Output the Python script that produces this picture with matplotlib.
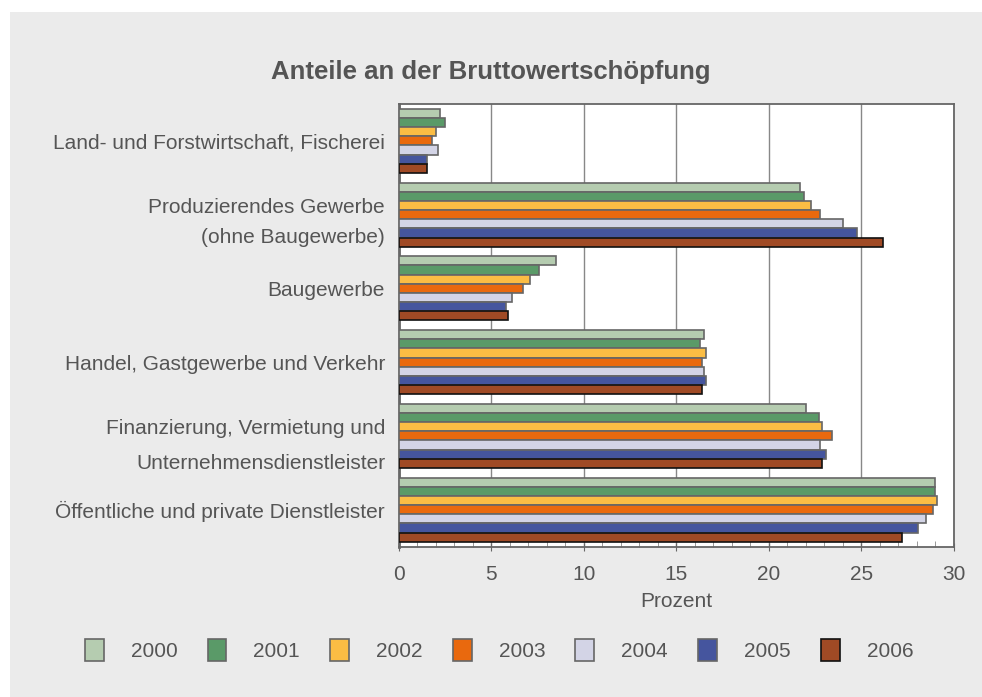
import matplotlib
matplotlib.use("Agg")
import matplotlib.pyplot as plt
from matplotlib.patches import Rectangle
import numpy as np

plt.rcParams['font.family'] = ['Liberation Sans', 'DejaVu Sans']

# Daten
kategorien = ['Land- und Forstwirtschaft, Fischerei',
              'Produzierendes Gewerbe\n(ohne Baugewerbe)',
              'Baugewerbe',
              'Handel, Gastgewerbe und Verkehr',
              'Finanzierung, Vermietung und\nUnternehmensdienstleister',
              'Öffentliche und private Dienstleister']
jahre = ['2000', '2001', '2002', '2003', '2004', '2005', '2006']

w2000 = [2.2, 21.7, 8.5, 16.5, 22.0, 29.0]
w2001 = [2.5, 21.9, 7.6, 16.3, 22.7, 29.0]
w2002 = [2.0, 22.3, 7.1, 16.6, 22.9, 29.1]
w2003 = [1.8, 22.8, 6.7, 16.4, 23.4, 28.9]
w2004 = [2.1, 24.0, 6.1, 16.5, 22.8, 28.5]
w2005 = [1.5, 24.8, 5.8, 16.6, 23.1, 28.1]
w2006 = [1.5, 26.2, 5.9, 16.4, 22.9, 27.2]
werte = [w2000, w2001, w2002, w2003, w2004, w2005, w2006]

farben = ['#b5ccb0', '#5a9a68', '#fbbd44', '#e9690e', '#d3d4e6', '#45559e', '#a04a25']
kanten = ['#666666'] * 6 + ['#111111']
textfarbe = '#555555'

fig = plt.figure(figsize=(9.82, 6.97), dpi=100)
# grauer Hintergrund mit weissem Rand oben/links
fig.patches.append(Rectangle((10 / 982, 0), 1, (697 - 12) / 697,
                             transform=fig.transFigure, facecolor='#ebebeb',
                             edgecolor='none', zorder=-10))

ax = fig.add_axes([399 / 982, 150.5 / 697, 554.5 / 982, 442.5 / 697])

n = len(jahre)
gruppe = 0.87
h = gruppe / n
y = np.arange(len(kategorien))
for i, (jahr, vals) in enumerate(zip(jahre, werte)):
    pos = y - gruppe / 2 + h / 2 + i * h
    ax.barh(pos, vals, height=h, color=farben[i], edgecolor=kanten[i],
            linewidth=1.2, label=jahr, zorder=3)

ax.set_ylim(len(kategorien) - 0.5, -0.5)
ax.set_xlim(0, 30)
ax.set_xticks(range(0, 31, 5))
ax.set_xticks(range(0, 31, 1), minor=True)
ax.set_yticks(y)
ax.set_yticklabels(kategorien, fontsize=15, color=textfarbe, linespacing=2.1)
ax.get_yticklabels()[1].set_linespacing(1.75)
ax.tick_params(axis='y', length=0, pad=10)
ax.tick_params(axis='x', which='major', length=6, direction='inout', color='#666666',
               labelsize=15, labelcolor=textfarbe, pad=10)
ax.tick_params(axis='x', which='minor', length=4, direction='in', color='#888888')

ax.grid(axis='x', which='major', color='#888888', linewidth=1, zorder=0)
for s in ax.spines.values():
    s.set_color('#666666')
    s.set_linewidth(1.3)
ax.spines['left'].set_linewidth(2)
ax.set_facecolor('white')

ax.set_xlabel('Prozent', fontsize=15, color=textfarbe, labelpad=6)
fig.text(491 / 982, 1 - 72 / 697, 'Anteile an der Bruttowertschöpfung',
         fontsize=18.5, fontweight='bold', color=textfarbe, ha='center', va='center')

fig.legend(loc='center', bbox_to_anchor=(499 / 982, 1 - 650 / 697), ncol=7,
           frameon=False, fontsize=15, labelcolor=textfarbe,
           handlelength=0.9, handleheight=1.2, handletextpad=1.3, columnspacing=1.45)

plt.savefig('out.png', dpi=100, facecolor='white')
